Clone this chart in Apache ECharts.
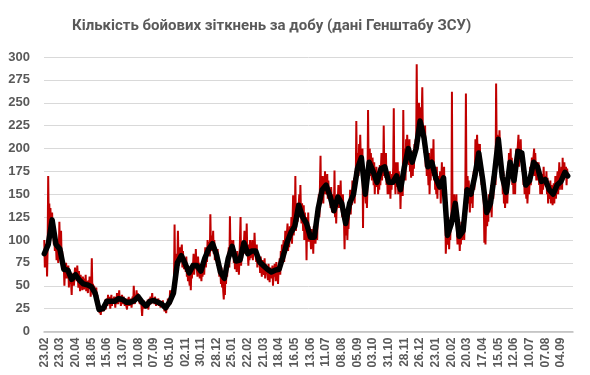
<!DOCTYPE html>
<html><head><meta charset="utf-8">
<script src="https://cdn.jsdelivr.net/npm/echarts@6/dist/echarts.min.js"></script>
<style>html,body{margin:0;padding:0;background:#fff}#c{width:590px;height:375px}</style>
</head><body><div id="c"></div>
<script>
// Day 0 = 23.02.2023; axis spans 946 daily categories
const startYear = 2023, startMonth = 1, startDay = 23;
const dayCount = 946;
const tickLabels = ['23.02','23.03','20.04','18.05','15.06','13.07','10.08','07.09','05.10','02.11','30.11','28.12','25.01','22.02','21.03','18.04','16.05','13.06','11.07','08.08','05.09','03.10','31.10','28.11','26.12','23.01','20.02','20.03','17.04','15.05','12.06','10.07','07.08','04.09'];
const yTicks = [0,25,50,75,100,125,150,175,200,225,250,275,300];

// Daily values (red), one row per week
const dailyClashes = [
100,70,96,78,88,60,92,
170,120,140,105,135,110,125,
130,108,122,95,100,88,96,
92,78,100,84,75,90,120,
95,86,110,80,88,72,66,
70,50,68,62,75,58,64,
66,72,48,68,60,58,52,
40,62,55,64,50,60,70,
58,68,55,72,60,48,66,
56,44,62,50,58,45,60,
52,46,58,48,62,44,55,
50,42,56,47,60,52,38,
50,80,45,52,40,50,46,
42,35,48,30,40,28,34,
24,20,28,18,26,22,25,
28,22,30,26,35,24,32,
36,28,40,30,34,38,25,
33,40,28,36,31,30,38,
34,26,38,30,42,35,30,
37,45,32,38,28,36,40,
35,30,38,33,28,36,30,
32,24,36,30,38,28,34,
30,36,26,33,38,30,50,
36,30,40,34,45,38,42,
40,34,36,30,28,35,26,
17,30,26,34,25,30,28,
26,32,28,35,24,30,36,
33,38,30,36,42,32,34,
36,30,38,33,28,35,32,
30,36,28,34,30,26,32,
30,28,34,25,30,22,28,
26,20,30,24,36,28,30,
32,45,30,38,35,42,40,
48,55,117,60,70,85,68,
75,110,80,72,92,78,85,
83,95,70,88,76,68,80,
74,65,82,60,72,55,66,
64,50,70,45,68,58,75,
72,85,62,78,68,90,74,
72,60,82,66,75,58,70,
66,55,72,60,68,78,62,
80,92,70,88,76,100,84,
90,98,82,128,92,88,105,
96,110,85,100,78,92,88,
84,72,90,70,76,60,68,
65,52,70,48,62,44,35,
58,40,66,52,70,60,75,
80,92,70,126,88,100,95,
93,82,100,75,90,68,80,
77,65,88,70,82,62,78,
78,125,72,90,80,98,88,
97,110,85,102,90,118,88,
85,72,95,78,100,80,92,
88,100,78,95,84,108,90,
88,76,95,70,85,74,80,
76,64,82,70,60,78,72,
72,62,80,58,74,66,70,
68,56,74,62,54,70,60,
65,58,72,50,66,60,74,
67,55,76,62,70,52,68,
68,80,62,88,74,95,82,
82,100,76,92,110,86,98,
97,118,88,105,92,115,100,
108,125,96,120,149,105,118,
115,170,110,130,140,120,135,
138,150,125,160,132,118,140,
125,110,138,100,130,112,120,
78,125,105,130,98,115,108,
103,90,112,95,108,85,115,
103,118,96,110,125,100,130,
135,150,125,160,192,140,165,
155,170,140,165,150,175,158,
160,150,172,145,165,150,155,
148,135,158,140,130,150,138,
132,176,125,145,118,140,150,
147,160,135,155,140,165,138,
140,125,150,130,120,90,125,
118,105,128,100,122,112,130,
140,155,128,150,138,165,145,
150,168,140,175,160,230,180,
178,195,170,205,185,215,190,
190,175,200,113,180,165,170,
150,140,165,135,160,242,178,
185,200,170,195,180,165,190,
175,160,185,150,170,158,180,
163,175,150,168,155,182,160,
178,195,165,185,170,225,180,
180,168,195,160,175,150,170,
163,150,175,145,168,155,172,
163,180,244,160,175,150,185,
170,158,185,150,175,160,168,
134,160,150,170,148,242,175,
180,200,165,210,190,215,195,
200,182,210,175,195,168,190,
185,170,198,178,205,190,210,
200,292,215,240,225,250,232,
230,245,220,238,267,215,225,
212,195,225,180,200,170,185,
180,160,195,150,175,165,200,
185,200,170,210,165,180,155,
168,150,180,145,170,155,160,
158,175,140,165,185,150,170,
168,180,140,150,85,100,110,
105,95,120,90,110,100,125,
118,262,130,140,120,150,135,
140,125,150,110,95,120,100,
104,88,110,95,120,100,108,
110,125,100,140,160,260,150,
155,170,140,165,150,130,158,
150,140,165,135,160,175,155,
170,210,185,200,215,190,205,
195,180,205,170,190,160,175,
166,150,140,97,130,95,125,
130,115,140,120,150,130,145,
140,160,125,150,170,145,165,
172,190,160,271,205,215,200,
210,195,220,200,185,175,165,
169,150,175,140,160,135,150,
152,165,140,160,175,195,180,
185,200,170,190,160,175,150,
165,180,150,185,200,175,195,
197,215,180,205,190,210,185,
195,175,185,160,170,150,165,
160,145,168,140,155,165,150,
165,180,160,175,190,170,185,
185,200,170,195,180,165,185,
180,165,185,160,175,150,168,
164,150,172,155,180,160,170,
166,158,175,150,168,140,160,
155,145,165,140,160,150,138,
150,162,140,155,170,145,160,
160,175,150,168,185,155,172,
164,180,155,190,165,172,185,
174,168,180,160,178,170
];

// Smoothed trend (black), read weekly
const trendDays = [0,7,14,21,28,35,42,49,56,63,70,77,84,91,98,105,112,119,126,133,140,147,154,161,168,175,182,189,196,203,210,217,224,231,238,245,252,259,266,273,280,287,294,301,308,315,322,329,336,343,350,357,364,371,378,385,392,399,406,413,420,427,434,441,448,455,462,469,476,483,490,497,504,511,518,525,532,539,546,553,560,567,574,581,588,595,602,609,616,623,630,637,644,651,658,665,672,679,686,693,700,707,714,721,728,735,742,749,756,763,770,777,784,791,798,805,812,819,826,833,840,847,854,861,868,875,882,889,896,903,910,917,924,931,936];
const trendValues = [85,95,122,95,90,68,67,57,62,56,52,51,49,42,24,25,33,33,33,36,35,32,32,34,38,32,28,33,34,32,30,26,32,42,75,83,74,64,72,72,66,80,90,96,84,65,58,80,93,77,78,97,85,88,88,76,72,68,65,67,68,82,97,108,115,138,125,118,103,103,135,155,160,148,132,147,140,118,140,150,178,190,150,185,175,163,178,180,163,163,170,155,180,200,185,200,230,212,180,185,168,158,168,105,118,140,104,110,155,150,170,195,166,130,140,172,210,169,152,185,165,197,195,160,165,185,180,164,166,155,150,160,164,174,170];

const categories = [];
for (let i = 0; i < dayCount; i++) {
  const d = new Date(Date.UTC(startYear, startMonth, startDay + i));
  const dd = String(d.getUTCDate()).padStart(2,'0');
  const mm = String(d.getUTCMonth()+1).padStart(2,'0');
  categories.push(dd + '.' + mm);
}
const redData = categories.map((c,i) => i < dailyClashes.length ? dailyClashes[i] : null);
const blackData = categories.map(() => null);
trendDays.forEach((d,i) => { blackData[d] = trendValues[i]; });

const chart = echarts.init(document.getElementById('c'), null, {renderer:'canvas'});
const lab = {fontFamily:'Liberation Sans, Arial, sans-serif', fontWeight:'bold', color:'#595959'};
chart.setOption({
  animation: false,
  title: {
    text: 'Кількість бойових зіткнень за добу (дані Генштабу ЗСУ)',
    left: 67, top: 14,
    textStyle: {fontFamily:'Roboto, Noto Sans, sans-serif', fontWeight:'bold', fontSize:15, color:'#595959'}
  },
  grid: {left: 44, right: 17, top: 57, bottom: 43.5, containLabel: false},
  xAxis: [{
    type: 'category', data: categories, boundaryGap: true,
    axisLine: {lineStyle: {color:'#bfbfbf', width: 1.5}},
    axisTick: {interval: 6, length: 3, lineStyle: {color:'#bfbfbf'}},
    axisLabel: Object.assign({interval: 27, rotate: 90, fontSize: 12, margin: 6, padding: [5,0,0,0]}, lab),
    splitLine: {show:false}
  },{
    type: 'category', data: categories, boundaryGap: true, position: 'bottom',
    axisLine: {show: false},
    axisTick: {interval: 27, length: 5, lineStyle: {color:'#bfbfbf'}},
    axisLabel: {show: false}
  }],
  yAxis: {
    type: 'value', min: 0, max: 300, interval: 25,
    axisLine: {show:false}, axisTick: {show:false},
    axisLabel: Object.assign({fontSize: 13, margin: 14}, lab),
    splitLine: {lineStyle: {color:'#d9d9d9', width: 1}}
  },
  series: [{
    type: 'line', data: redData, xAxisIndex: 0, symbol: 'none',
    lineStyle: {color:'#c00000', width: 2}, z: 2
  },{
    type: 'line', data: blackData, xAxisIndex: 0, symbol: 'none', connectNulls: true,
    lineStyle: {color:'#000000', width: 5.5, join: 'round', cap: 'round'}, z: 3
  }]
});
</script></body></html>
